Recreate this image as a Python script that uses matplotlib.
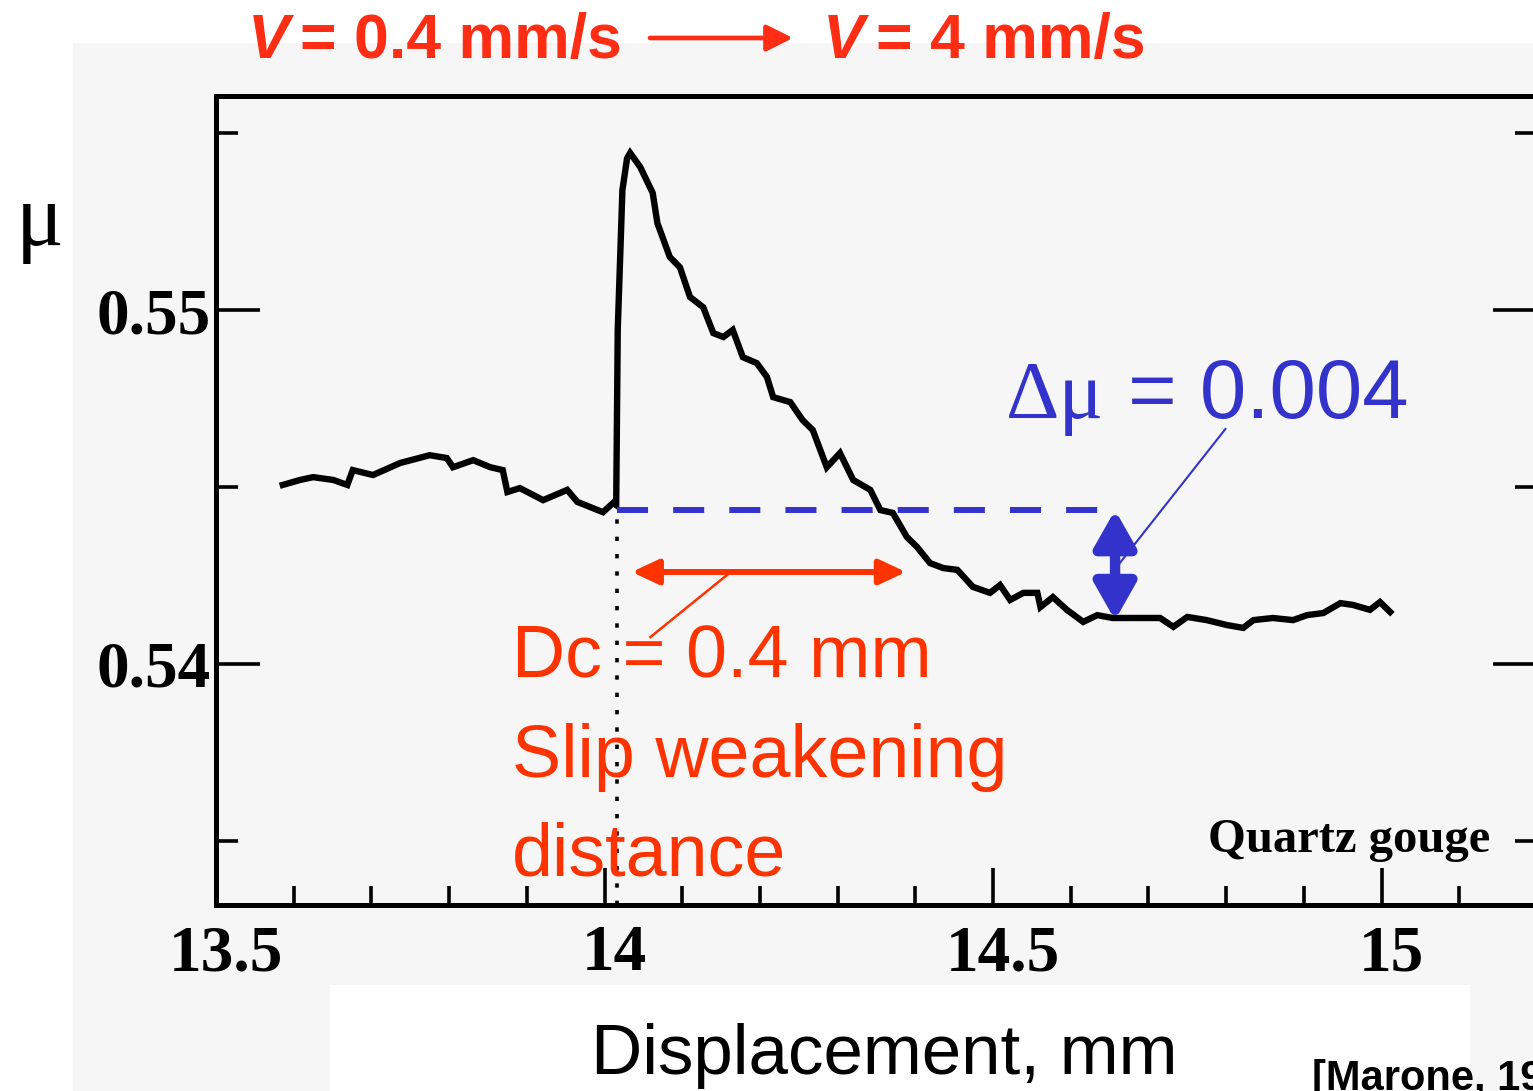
import numpy as np
import matplotlib.pyplot as plt
from matplotlib.patches import Rectangle
from matplotlib.transforms import ScaledTranslation

# DATA
disp = [13.586, 13.608, 13.625, 13.651, 13.669, 13.676, 13.702, 13.737, 13.775, 13.797,
        13.805, 13.831, 13.853, 13.869, 13.875, 13.891, 13.921, 13.952, 13.965, 13.998,
        14.011, 14.015, 14.017, 14.023, 14.029, 14.033, 14.046, 14.062, 14.068, 14.084,
        14.097, 14.110, 14.127, 14.140, 14.153, 14.165, 14.178, 14.196, 14.209, 14.217,
        14.239, 14.255, 14.268, 14.286, 14.303, 14.320, 14.342, 14.355, 14.371, 14.389,
        14.402, 14.419, 14.436, 14.454, 14.474, 14.496, 14.509, 14.522, 14.539, 14.557,
        14.561, 14.577, 14.595, 14.616, 14.634, 14.654, 14.689, 14.715, 14.732, 14.750,
        14.775, 14.801, 14.822, 14.835, 14.860, 14.886, 14.904, 14.925, 14.947, 14.963,
        14.985, 14.998, 15.011]
mu = [0.54506, 0.54520, 0.54528, 0.54520, 0.54506, 0.54548, 0.54534, 0.54568, 0.54590, 0.54582,
      0.54556, 0.54576, 0.54556, 0.54548, 0.54486, 0.54497, 0.54463, 0.54492, 0.54458, 0.54429,
      0.54455, 0.54449, 0.54944, 0.55339, 0.55429, 0.55444, 0.55404, 0.55331, 0.55246, 0.55150,
      0.55121, 0.55037, 0.55008, 0.54935, 0.54924, 0.54944, 0.54867, 0.54850, 0.54811, 0.54754,
      0.54740, 0.54689, 0.54661, 0.54556, 0.54596, 0.54520, 0.54492, 0.54435, 0.54427, 0.54359,
      0.54331, 0.54285, 0.54271, 0.54266, 0.54218, 0.54201, 0.54223, 0.54181, 0.54201, 0.54201,
      0.54161, 0.54189, 0.54153, 0.54119, 0.54138, 0.54130, 0.54130, 0.54130, 0.54105, 0.54133,
      0.54124, 0.54110, 0.54102, 0.54124, 0.54130, 0.54124, 0.54138, 0.54144, 0.54172, 0.54167,
      0.54153, 0.54175, 0.54147]

x_ticks = [13.5, 14.0, 14.5, 15.0]
x_tick_labels = ["13.5", "14", "14.5", "15"]
y_ticks = [0.54, 0.55]
y_tick_labels = ["0.54", "0.55"]

# annotation values
step_x = 14.016          # velocity step
mu_step = 0.54435        # friction just before the step
mu_ss = 0.54124          # new steady state
dash_end = 14.638
dmu_x = 14.657
dc_start, dc_end, dc_y = 14.035, 14.388, 0.5426
blue_leader = ([14.663, 14.799], [0.54285, 0.54664])
red_leader = ([14.059, 14.159], [0.54076, 0.54254])

RED = "#ff2d14"
RED2 = "#ff3300"
BLUE = "#3333cc"
W, H = 1533, 1091


def fpos(px, py):
    # pixel position in the picture -> figure fraction
    return px / W, 1 - py / H


fig = plt.figure(figsize=(W / 100, H / 100), dpi=100)
fig.patch.set_facecolor("white")

# scanned page background
fig.patches.append(Rectangle(fpos(73, 1091), (W - 73) / W, (1091 - 43) / H,
                             transform=fig.transFigure, facecolor="#f6f6f6",
                             edgecolor="none", zorder=-10))
fig.patches.append(Rectangle(fpos(330, 1091), (1470 - 330) / W, (1091 - 985) / H,
                             transform=fig.transFigure, facecolor="white",
                             edgecolor="none", zorder=-9))

ax = fig.add_axes([216 / W, 1 - 905 / H, (1537 - 216) / W, (905 - 96) / H])
ax.set_facecolor("none")
ax.set_xlim(13.5, 15.2)
ax.set_ylim(0.53319, 0.55605)

ax.plot(disp, mu, color="black", lw=4.6, solid_joinstyle="miter", zorder=3)

# step markers
ax.hlines(mu_step, step_x, dash_end, colors=BLUE, lw=4.3,
          linestyles=(0, (5.2, 4.2)), zorder=4)
ax.vlines(step_x, ax.get_ylim()[0], mu_step, colors="black", lw=2.6,
          linestyles=(0, (1.2, 3.6)), zorder=2)

ax.annotate("", xy=(dmu_x, mu_ss), xytext=(dmu_x, mu_step),
            arrowprops=dict(arrowstyle="<|-|>,head_length=2.2,head_width=1.25",
                            mutation_scale=10, color=BLUE, lw=7.5,
                            shrinkA=0, shrinkB=0), zorder=5)
ax.annotate("", xy=(dc_end, dc_y), xytext=(dc_start, dc_y),
            arrowprops=dict(arrowstyle="<|-|>,head_length=1.6,head_width=0.75",
                            mutation_scale=10, color=RED2, lw=4.3,
                            shrinkA=0, shrinkB=0), zorder=5)
ax.plot(*blue_leader, color=BLUE, lw=1.5, zorder=5)
ax.plot(*red_leader, color=RED2, lw=1.8, zorder=5)

# axes styling
for side in ["left", "right", "top", "bottom"]:
    ax.spines[side].set_linewidth(3.6)
tick_font = dict(family="Liberation Serif", fontsize=47, fontweight="bold")
ax.set_xticks(x_ticks)
ax.set_xticklabels(x_tick_labels, **tick_font)
ax.set_xticks(np.arange(13.6, 15.2, 0.1), minor=True)
ax.set_yticks(y_ticks)
ax.set_yticklabels(y_tick_labels, **tick_font)
ax.set_yticks([0.535, 0.545, 0.555], minor=True)
ax.tick_params(axis="x", which="major", direction="in", length=27, width=2.6, pad=14, top=False)
ax.tick_params(axis="x", which="minor", direction="in", length=14, width=2.6, top=False)
ax.tick_params(axis="y", which="major", direction="in", length=32, width=2.6, pad=4, right=True)
ax.tick_params(axis="y", which="minor", direction="in", length=16, width=2.6, right=True)
shift = ScaledTranslation(0.10, 0, fig.dpi_scale_trans)
for lab in ax.get_xticklabels():
    lab.set_transform(lab.get_transform() + shift)

ax.text(14.776, 0.5347, "Quartz gouge", family="Liberation Serif",
        fontweight="bold", fontsize=35, va="baseline", ha="left", zorder=6)

# labels and annotations
fig.text(*fpos(40, 245), "\u03bc", family="Liberation Serif", fontsize=64,
         ha="center", va="baseline")
fig.text(*fpos(884, 1074), "Displacement, mm", family="Liberation Sans",
         fontsize=51, ha="center", va="baseline")
fig.text(*fpos(1312, 1090), "[Marone, 1998]", family="Liberation Sans",
         fontweight="bold", fontsize=30, ha="left", va="baseline")

top = dict(family="Liberation Sans", fontweight="bold", fontsize=45,
           color=RED, va="baseline", ha="left")
fig.text(*fpos(248, 58), "V", style="italic", **top)
fig.text(*fpos(300, 58), "= 0.4 mm/s", **top)
fig.text(*fpos(823, 58), "V", style="italic", **top)
fig.text(*fpos(876, 58), "= 4 mm/s", **top)
ax.annotate("", xy=fpos(793, 38), xytext=fpos(650, 38),
            xycoords="figure fraction", textcoords="figure fraction",
            arrowprops=dict(arrowstyle="-|>,head_length=1.6,head_width=0.8",
                            mutation_scale=10, color=RED, lw=3.4,
                            shrinkA=0, shrinkB=0), annotation_clip=False)

fig.text(*fpos(1006, 418), "\u0394\u03bc", family="Liberation Serif",
         fontsize=60, color=BLUE, va="baseline", ha="left")
fig.text(*fpos(1128, 418), "= 0.004", family="Liberation Sans",
         fontsize=60, color=BLUE, va="baseline", ha="left")

dc = dict(family="Liberation Sans", fontsize=53, color=RED2, va="baseline", ha="left")
fig.text(*fpos(512, 678), "Dc = 0.4 mm", **dc)
fig.text(*fpos(512, 777), "Slip weakening", **dc)
fig.text(*fpos(512, 875), "distance", **dc)

fig.savefig("out.png", dpi=100)
